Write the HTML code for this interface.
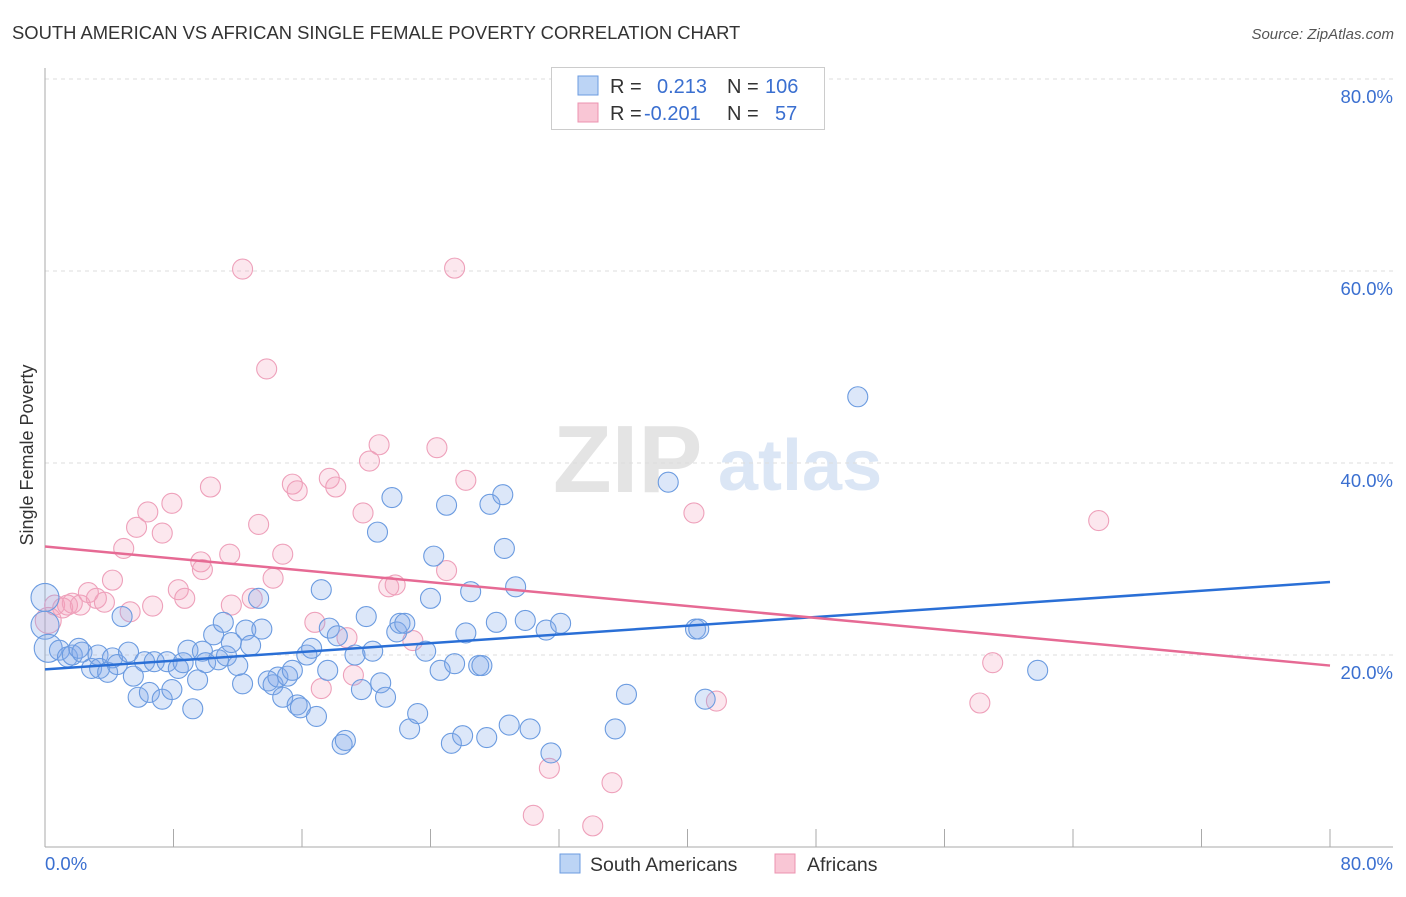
<!DOCTYPE html>
<html><head><meta charset="utf-8"><style>
body{margin:0;background:#fff;font-family:"Liberation Sans",sans-serif}
svg text{font-family:"Liberation Sans",sans-serif}
</style></head><body>
<svg id="c" width="1406" height="892" viewBox="0 0 1406 892" xmlns="http://www.w3.org/2000/svg">
<text x="12" y="39" font-size="18.4" fill="#333">SOUTH AMERICAN VS AFRICAN SINGLE FEMALE POVERTY CORRELATION CHART</text>
<text x="1394" y="39" font-size="15" fill="#555" font-style="italic" text-anchor="end">Source: ZipAtlas.com</text>
<g>
<text x="553" y="492" font-size="96" fill="#e4e4e4" font-family="Liberation Serif" font-weight="bold">ZIP</text>
<text x="718" y="490" font-size="72" fill="#dbe6f5" font-weight="bold">atlas</text>
</g>
<g id="grid"></g>
<g id="axes"></g>
<g id="pts"></g>
<g id="trend"></g>
<text x="33" y="455" font-size="18" fill="#333" transform="rotate(-90 33 455)" text-anchor="middle">Single Female Poverty</text>
<g>
<rect x="551.5" y="67.5" width="273" height="62" fill="#fff" stroke="#ccc"/>
<rect x="578" y="76" width="20" height="19" fill="#bcd4f5" stroke="#6b9be0"/>
<rect x="578" y="103" width="20" height="19" fill="#f9c6d5" stroke="#ec93b0"/>
<text x="610" y="93" font-size="20" fill="#333">R =</text>
<text x="657" y="93" font-size="20" fill="#3a6fd0">0.213</text>
<text x="727" y="93" font-size="20" fill="#333">N =</text>
<text x="765" y="93" font-size="20" fill="#3a6fd0">106</text>
<text x="610" y="120" font-size="20" fill="#333">R =</text>
<text x="644" y="120" font-size="20" fill="#3a6fd0">-0.201</text>
<text x="727" y="120" font-size="20" fill="#333">N =</text>
<text x="775" y="120" font-size="20" fill="#3a6fd0">57</text>
</g>
<g>
<rect x="560" y="854" width="20" height="19" fill="#bcd4f5" stroke="#6b9be0"/>
<text x="590" y="871" font-size="19.5" fill="#333">South Americans</text>
<rect x="775" y="854" width="20" height="19" fill="#f9c6d5" stroke="#ec93b0"/>
<text x="807" y="871" font-size="19.5" fill="#333">Africans</text>
</g>
</svg>
<script>
const yTicks=[20,40,60,80];
const yTickLabels=["20.0%","40.0%","60.0%","80.0%"];
const xTickLabels=["0.0%","80.0%"];
const blueX=[0,0,0.2,0.9,1.4,1.7,2.1,2.3,2.9,3.3,3.4,3.9,4.2,4.5,4.8,5.2,5.5,5.8,6.2,6.5,6.8,7.3,7.6,7.9,8.3,8.6,8.9,9.2,9.5,9.8,10.0,10.5,10.8,11.1,11.3,11.6,12.0,12.3,12.5,12.8,13.3,13.5,13.9,14.2,14.5,14.8,15.1,15.4,15.7,15.9,16.3,16.6,16.9,17.2,17.6,17.7,18.2,18.5,18.7,19.3,19.7,20.0,20.4,20.7,20.9,21.2,21.6,21.9,22.1,22.4,22.7,23.2,23.7,24.0,24.2,24.6,25.0,25.3,25.5,26.0,26.2,26.5,27.0,27.2,27.5,27.7,28.1,28.5,28.6,28.9,29.3,29.9,30.2,31.2,31.5,32.1,35.5,36.2,38.8,40.5,40.7,41.1,50.6,61.8];
const blueY=[26.0,23.1,20.7,20.5,19.8,20.0,20.7,20.3,18.6,20.0,18.6,18.2,19.7,19.0,24.0,20.3,17.8,15.6,19.3,16.1,19.3,15.4,19.3,16.4,18.6,19.2,20.5,14.4,17.4,20.4,19.2,22.1,19.5,23.4,19.9,21.3,18.9,17.0,22.6,21.0,25.9,22.7,17.3,16.9,17.7,15.6,17.8,18.4,14.8,14.5,20.0,20.7,13.6,26.8,18.4,22.8,22.0,10.7,11.1,20.0,16.4,24.0,20.4,32.8,17.1,15.6,36.4,22.4,23.3,23.3,12.3,13.9,20.4,25.9,30.3,18.4,35.6,10.8,19.1,11.6,22.3,26.6,18.9,18.9,11.4,35.7,23.4,36.7,31.1,12.7,27.1,23.6,12.3,22.6,9.8,23.3,12.3,15.9,38.0,22.7,22.7,15.4,46.9,18.4];
const pinkX=[0.2,0.6,1.1,1.4,1.7,2.2,2.7,3.2,3.7,4.2,4.9,5.3,5.7,6.4,6.7,7.3,7.9,8.3,8.7,9.7,9.8,10.3,11.5,11.6,12.3,12.9,13.3,13.8,14.2,14.8,15.4,15.7,16.8,17.2,17.7,18.1,18.8,19.2,19.8,20.2,20.8,21.4,21.8,22.9,24.4,25.0,25.5,26.2,30.4,31.4,34.1,35.3,40.4,41.8,58.2,59.0,65.6];
const pinkY=[23.6,25.2,24.9,25.2,25.4,25.2,26.5,25.9,25.5,27.8,31.1,24.5,33.3,34.9,25.1,32.7,35.8,26.8,25.9,29.7,28.9,37.5,30.5,25.2,60.2,25.9,33.6,49.8,28.0,30.5,37.8,37.1,23.4,16.5,38.4,37.5,21.8,17.9,34.8,40.2,41.9,27.1,27.3,21.5,41.6,28.8,60.3,38.2,3.3,8.2,2.2,6.7,34.8,15.2,15.0,19.2,34.0];
const blueTrend=[18.5,27.6];
const pinkTrend=[31.3,18.9];
const NS="http://www.w3.org/2000/svg";
const X0=45,X1=1330,Y0=847,YS=9.6;
function sx(v){return X0+(X1-X0)*v/80;}
function sy(v){return Y0-v*YS;}
function mk(t,a,p){const e=document.createElementNS(NS,t);for(const k in a)e.setAttribute(k,a[k]);document.getElementById(p).appendChild(e);return e;}
yTicks.forEach((t,i)=>{
 const g=mk('line',{x1:45,x2:1393,y1:sy(t),y2:sy(t),stroke:'#ddd','stroke-dasharray':'4,4'},'grid');
 
 
 const l=mk('text',{x:1393,y:sy(t)+24,'font-size':18.5,fill:'#3a6fd0','text-anchor':'end'},'axes');
 l.textContent=yTickLabels[i];
 
 
});
let a=mk('line',{x1:45,x2:45,y1:68,y2:847,stroke:'#aaa'},'axes');


a=mk('line',{x1:45,x2:1393,y1:847,y2:847,stroke:'#aaa'},'axes');


for(let i=0;i<=10;i++){
 const t=mk('line',{x1:sx(i*8),x2:sx(i*8),y1:829,y2:847,stroke:'#aaa'},'axes');
 
 
}
let xl=mk('text',{x:45,y:870,'font-size':18.5,fill:'#3a6fd0'},'axes');xl.textContent=xTickLabels[0];


xl=mk('text',{x:1393,y:870,'font-size':18.5,fill:'#3a6fd0','text-anchor':'end'},'axes');xl.textContent=xTickLabels[1];


function pts(xs,ys,fill,stroke,name){
 xs.forEach((x,i)=>{
  const r=(x<0.5&&name==='point-south-american'&&i<3)?14:(x<0.5?13:10);
  const c=mk('circle',{cx:sx(x),cy:sy(ys[i]),r:r,fill:fill,stroke:stroke,'stroke-width':1.1},'pts');
  
  
 });
}
pts(pinkX,pinkY,'rgba(244,160,188,0.25)','#eea0ba','point-african');
pts(blueX,blueY,'rgba(130,170,235,0.28)','#6b9be0','point-south-american');
let tl=mk('line',{x1:sx(0),y1:sy(blueTrend[0]),x2:sx(80),y2:sy(blueTrend[1]),stroke:'#2a6fd6','stroke-width':2.5},'trend');


tl=mk('line',{x1:sx(0),y1:sy(pinkTrend[0]),x2:sx(80),y2:sy(pinkTrend[1]),stroke:'#e66a94','stroke-width':2.5},'trend');


</script>
</body></html>
